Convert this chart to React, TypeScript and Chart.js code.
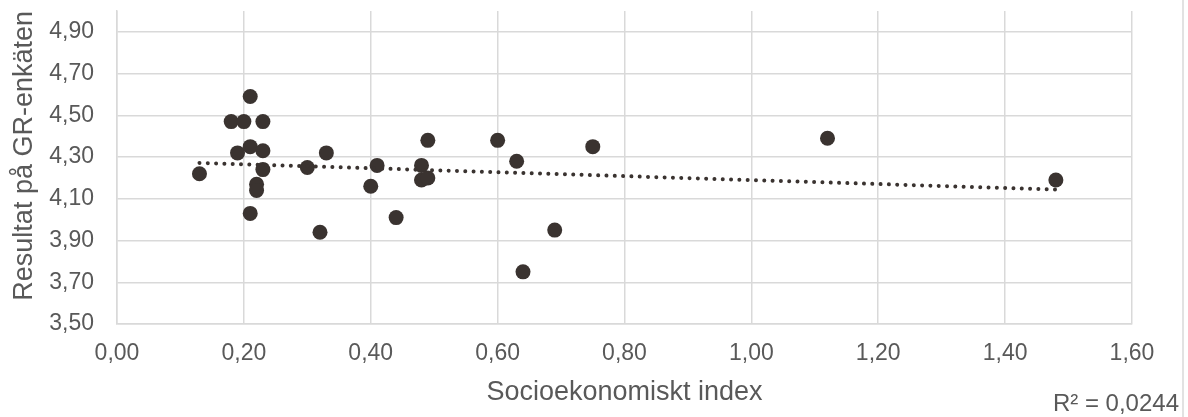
import React, { useEffect, useRef } from "react";
import { Chart, registerables } from "chart.js";

Chart.register(...registerables);

const xValues = [0.13, 0.21, 0.18, 0.2, 0.23, 0.19, 0.21, 0.23, 0.23, 0.22, 0.22, 0.21, 0.3, 0.33, 0.32, 0.41, 0.4, 0.44, 0.49, 0.48, 0.48, 0.49, 0.6, 0.63, 0.64, 0.69, 0.75, 1.12, 1.48];
const yValues = [4.22, 4.59, 4.47, 4.47, 4.47, 4.32, 4.35, 4.33, 4.24, 4.17, 4.14, 4.03, 4.25, 4.32, 3.94, 4.26, 4.16, 4.01, 4.38, 4.26, 4.19, 4.2, 4.38, 4.28, 3.75, 3.95, 4.35, 4.39, 4.19];
const xTickValues = [0, 0.2, 0.4, 0.6, 0.8, 1.0, 1.2, 1.4, 1.6];
const yTickValues = [3.5, 3.7, 3.9, 4.1, 4.3, 4.5, 4.7, 4.9];
const xTitle = "Socioekonomiskt index";
const yTitle = "Resultat på GR-enkäten";
const r2Label = "R² = 0,0244";

const FONT = "'Liberation Sans', Arial, sans-serif";
const TEXT = "#595959";
const GRID = "#d9d9d9";
const MARK = "#3a3330";

function regression(xs: number[], ys: number[]) {
  const n = xs.length;
  const mx = xs.reduce((a, b) => a + b, 0) / n;
  const my = ys.reduce((a, b) => a + b, 0) / n;
  let sxy = 0, sxx = 0;
  for (let i = 0; i < n; i++) {
    sxy += (xs[i] - mx) * (ys[i] - my);
    sxx += (xs[i] - mx) * (xs[i] - mx);
  }
  const b = sxy / sxx;
  return { a: my - b * mx, b };
}

const fmt = (v: number) => v.toFixed(2).replace(".", ",");

export default function App() {
  const ref = useRef<HTMLCanvasElement>(null);
  useEffect(() => {
    document.body.style.margin = "0";
    const { a, b } = regression(xValues, yValues);
    const minX = Math.min(...xValues);
    const maxX = Math.max(...xValues);
    const decor = {
      id: "decor",
      afterDraw(chart: any) {
        const ctx = chart.ctx;
        ctx.save();
        ctx.strokeStyle = GRID;
        ctx.lineWidth = 1.5;
        ctx.beginPath();
        ctx.moveTo(chart.width - 5, 0);
        ctx.lineTo(chart.width - 5, chart.height);
        ctx.stroke();
        ctx.fillStyle = TEXT;
        ctx.font = `24px ${FONT}`;
        ctx.textAlign = "right";
        ctx.textBaseline = "middle";
        ctx.fillText(r2Label, chart.width - 9, chart.height - 13);
        ctx.restore();
      },
    };
    const chart = new Chart(ref.current!, {
      type: "scatter",
      data: {
        datasets: [
          {
            type: "line",
            data: [
              { x: minX, y: a + b * minX },
              { x: maxX, y: a + b * maxX },
            ],
            borderColor: MARK,
            borderWidth: 4,
            borderDash: [0.01, 8.3],
            borderCapStyle: "round",
            pointRadius: 0,
            fill: false,
            order: 0,
          } as any,
          {
            data: xValues.map((x, i) => ({ x, y: yValues[i] })),
            backgroundColor: MARK,
            borderColor: MARK,
            pointRadius: 7.5,
            pointBorderWidth: 0,
            order: 1,
          },
        ],
      },
      options: {
        animation: false,
        responsive: true,
        maintainAspectRatio: false,
        layout: { padding: { top: 11, right: 56, left: 0, bottom: 0 } },
        plugins: { legend: { display: false }, tooltip: { enabled: false } },
        scales: {
          x: {
            type: "linear",
            min: 0,
            max: 1.6,
            afterBuildTicks: (s: any) => {
              s.ticks = xTickValues.map((v) => ({ value: v }));
            },
            afterFit: (s: any) => {
              s.height = 93;
              s.paddingLeft = 0;
              s.paddingRight = 0;
            },
            grid: { color: GRID, lineWidth: 1.5, drawTicks: false },
            border: { color: GRID, width: 1.5 },
            ticks: {
              color: TEXT,
              font: { family: FONT, size: 23 },
              padding: 16,
              maxRotation: 0,
              callback: (v: any) => fmt(Number(v)),
            },
            title: {
              display: true,
              text: xTitle,
              color: TEXT,
              font: { family: FONT, size: 27 },
              padding: { top: 0, bottom: 8 },
            },
          },
          y: {
            type: "linear",
            min: 3.5,
            max: 5.0,
            afterBuildTicks: (s: any) => {
              s.ticks = yTickValues.map((v) => ({ value: v }));
            },
            afterFit: (s: any) => {
              s.width = 117;
              s.paddingTop = 0;
              s.paddingBottom = 0;
            },
            grid: { color: GRID, lineWidth: 1.5, drawTicks: false },
            border: { color: GRID, width: 1.5 },
            ticks: {
              color: TEXT,
              font: { family: FONT, size: 23 },
              padding: 23,
              callback: (v: any) => fmt(Number(v)),
            },
            title: {
              display: true,
              text: yTitle,
              color: TEXT,
              align: "end",
              font: { family: FONT, size: 27 },
              padding: { top: 8, bottom: 0 },
            },
          },
        },
      },
      plugins: [decor],
    });
    return () => chart.destroy();
  }, []);
  return (
    <div style={{ width: 1188, height: 417, position: "relative" }}>
      <canvas ref={ref} />
    </div>
  );
}
